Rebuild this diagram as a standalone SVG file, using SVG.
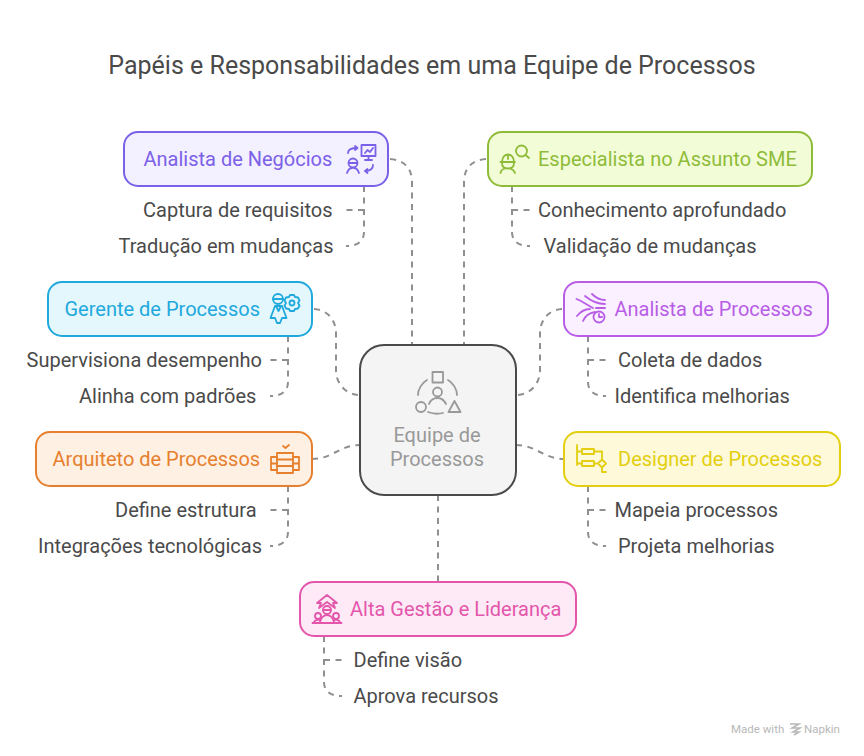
<svg xmlns="http://www.w3.org/2000/svg" width="864" height="756" viewBox="0 0 864 756">
<style>
text{font-family:Roboto,"Liberation Sans",sans-serif;font-size:20px;fill:#4a4a4a}
.t{font-size:25px}
.c{fill:none;stroke:#8f8f8f;stroke-width:2;stroke-dasharray:6 5.500}
.n{stroke-width:2}
.i{fill:none;stroke-width:1.800;stroke-linecap:round;stroke-linejoin:round}
</style>
<rect width="864" height="756" fill="#fff"/>
<text class="t" x="432" y="74" text-anchor="middle">Papéis e Responsabilidades em uma Equipe de Processos</text>
<g id="connectors">
<path class="c" d="M390 159C404 160 412 168 412 182V345"/>
<path class="c" d="M486 159C472 160 464 168 464 182V345"/>
<path class="c" d="M314 309C328 310 336 320 336 334V370C336 384 346 395 360 395"/>
<path class="c" d="M562 309C548 310 540 320 540 334V370C540 384 530 395 516 395"/>
<path class="c" d="M312 459C332 459 340 445 360 445"/>
<path class="c" d="M516 445C536 445 544 459 564 459"/>
<path class="c" d="M438 495V582"/>
<path class="c" d="M364 186V232C364 241 358 246 346 246M364 210H346"/>
<path class="c" d="M512 186V232C512 241 518 246 530 246M512 210H530"/>
<path class="c" d="M288 336V382C288 391 282 396 270 396M288 360H270"/>
<path class="c" d="M588 336V382C588 391 594 396 606 396M588 360H606"/>
<path class="c" d="M288 486V532C288 541 282 546 270 546M288 510H270"/>
<path class="c" d="M588 486V532C588 541 594 546 606 546M588 510H606"/>
<path class="c" d="M324 636V682C324 691 330 696 342 696M324 660H342"/>
</g>
<g id="center">
<rect x="360" y="345" width="156" height="150" rx="24" fill="#f4f4f4" stroke="#4a4a4a" stroke-width="2"/>
<g class="i" stroke="#999">
<rect x="432.500" y="372" width="10.500" height="10.500"/>
<circle cx="437.500" cy="392" r="4.500"/>
<path d="M429 404C431 399 434 398 437.500 398C441 398 444 400 446 404"/>
<circle cx="421" cy="407" r="5"/>
<path d="M454.500 401L460.500 412H448.500Z"/>
<path d="M418 395C418 389 422 383 427 380M448 380C453 383 457 389 457 395M428 412C433 414 439 414 443 413"/>
</g>
<text x="437" y="442" text-anchor="middle" style="fill:#999">Equipe de</text>
<text x="437" y="466" text-anchor="middle" style="fill:#999">Processos</text>
</g>
<g id="analista-negocios">
<rect class="n" x="124" y="132" width="264" height="54" rx="14" fill="#f3f0ff" stroke="#7b61e8"/>
<text x="143.500" y="166" style="fill:#7b61e8">Analista de Negócios</text>
<g class="i" stroke="#7b61e8">
<rect x="361.500" y="145" width="14" height="11"/><path d="M368.500 156V160M365 160H372M365 153L367.500 150L370 152L373 148"/>
<circle cx="353" cy="163" r="4.500"/><path d="M349 163H357M347 173C348 170 350 168 352 168M359 173C358 170 356 168 354 168"/>
<path d="M348 153C348 150 351 148 357 148M355 146L357.500 148L355 150M373 165C373 169 370 171 365 171M367.500 169L365 171L367.500 173"/>
</g>
<text x="143" y="217">Captura de requisitos</text>
<text x="118.500" y="253">Tradução em mudanças</text>
</g>
<g id="especialista-sme">
<rect class="n" x="488" y="132" width="324" height="54" rx="14" fill="#f2fdd8" stroke="#8fbc38"/>
<text x="538" y="166" style="fill:#8fbc38">Especialista no Assunto SME</text>
<g class="i" stroke="#8fbc38">
<circle cx="521.500" cy="151" r="5.500"/><path d="M525.500 155L529 158"/>
<path d="M502 162C502 157 505 154.500 508 154.500C511 154.500 514 157 514 162M500.500 162H515M502 163C502 167 505 168.500 508 168.500C511 168.500 514 167 514 163M508 155V159"/>
<path d="M500.500 173C501 170 503 169 505 168.500M515 173C514 170 512 169 510 168.500"/>
</g>
<text x="538" y="217">Conhecimento aprofundado</text>
<text x="543.500" y="253">Validação de mudanças</text>
</g>
<g id="gerente-processos">
<rect class="n" x="48" y="282" width="264" height="54" rx="14" fill="#e4f7fd" stroke="#1fa9dc"/>
<text x="64.500" y="316" style="fill:#1fa9dc">Gerente de Processos</text>
<g class="i" stroke="#1fa9dc">
<circle cx="278" cy="299" r="5"/><path d="M273 299H283M275 306L270.500 318H275L277 323H280L282 318H286.500L282 306ZM276.500 307L278.500 311L280.500 307"/>
<circle cx="292" cy="303" r="2.500"/><path d="M290 295H294L295 297L298 297.500L299.500 300.500L298 303L299.500 305.500L298 308.500L295 309L294 311H290L289 309L286 308.500L284.500 305.500L286 303L284.500 300.500L286 297.500L289 297Z"/>
</g>
<text x="26.500" y="367">Supervisiona desempenho</text>
<text x="79" y="403">Alinha com padrões</text>
</g>
<g id="analista-processos">
<rect class="n" x="564" y="282" width="264" height="54" rx="14" fill="#fbf0ff" stroke="#b85ee6"/>
<text x="614.500" y="316" style="fill:#b85ee6">Analista de Processos</text>
<g class="i" stroke="#b85ee6">
<path d="M592 294C596 298 600 300 605 300M585 296C591 301 597 304 605 304M576.500 299C582 301 587 305 593 308M577 316C581 311 585 309 590 309M583 321C585 316 589 313 595 312M596 308H605"/>
<circle cx="599" cy="317" r="5.500"/><path d="M599 314V317H602"/>
</g>
<text x="618" y="367">Coleta de dados</text>
<text x="614.500" y="403">Identifica melhorias</text>
</g>
<g id="arquiteto-processos">
<rect class="n" x="36" y="432" width="276" height="54" rx="14" fill="#fef0e3" stroke="#e6802e"/>
<text x="52.500" y="466" style="fill:#e6802e">Arquiteto de Processos</text>
<g class="i" stroke="#e6802e">
<path d="M283 446L285.500 448L289 445"/>
<rect x="277" y="453" width="16" height="20"/>
<path d="M277 459.500H293M277 466H293M277 457H271V470H277M293 457H299V470H293M271 463.500H277M293 463.500H299"/>
</g>
<text x="115" y="517">Define estrutura</text>
<text x="38" y="553">Integrações tecnológicas</text>
</g>
<g id="designer-processos">
<rect class="n" x="564" y="432" width="276" height="54" rx="14" fill="#fef9d9" stroke="#e3cf10"/>
<text x="618" y="466" style="fill:#e3cf10">Designer de Processos</text>
<g class="i" stroke="#e3cf10">
<path d="M577 445V465M577 451.500H582M577 463.500H582"/>
<rect x="582" y="449" width="12" height="5"/><rect x="582" y="461" width="12" height="5"/>
<path d="M594 451.500H602V459.500M594 463.500H598L602 459.500L606 463.500L602 467.500L598 463.500M602 467.500V472H606"/>
</g>
<text x="614.500" y="517">Mapeia processos</text>
<text x="618" y="553">Projeta melhorias</text>
</g>
<g id="alta-gestao">
<rect class="n" x="300" y="582" width="276" height="54" rx="14" fill="#fdeaf6" stroke="#e356ab"/>
<text x="350" y="616" style="fill:#e356ab">Alta Gestão e Liderança</text>
<g class="i" stroke="#e356ab">
<path d="M317 603L327 595L337 603H333M317 603H321L319 608L327 602L335 608L333 603"/>
<circle cx="327" cy="610" r="4"/><path d="M323 610H331"/>
<circle cx="318" cy="616" r="3"/><circle cx="336" cy="616" r="3"/>
<path d="M312.500 623H341.500M314 622C315 620 317 619.500 319 620M340 622C339 620 337 619.500 335 620M320 622C321 618 324 615 327 615C330 615 333 618 334 622"/>
</g>
<text x="353.500" y="667">Define visão</text>
<text x="353.500" y="703">Aprova recursos</text>
</g>
<g id="marca">
<text x="731" y="733" style="font-size:11.500px;fill:#b8b8b8">Made with</text>
<path d="M790 724H799L792 728H800L793 732H799L794 735" fill="none" stroke="#b8b8b8" stroke-width="1.500"/>
<text x="804" y="733" style="font-size:11.500px;fill:#b8b8b8">Napkin</text>
</g>
</svg>
